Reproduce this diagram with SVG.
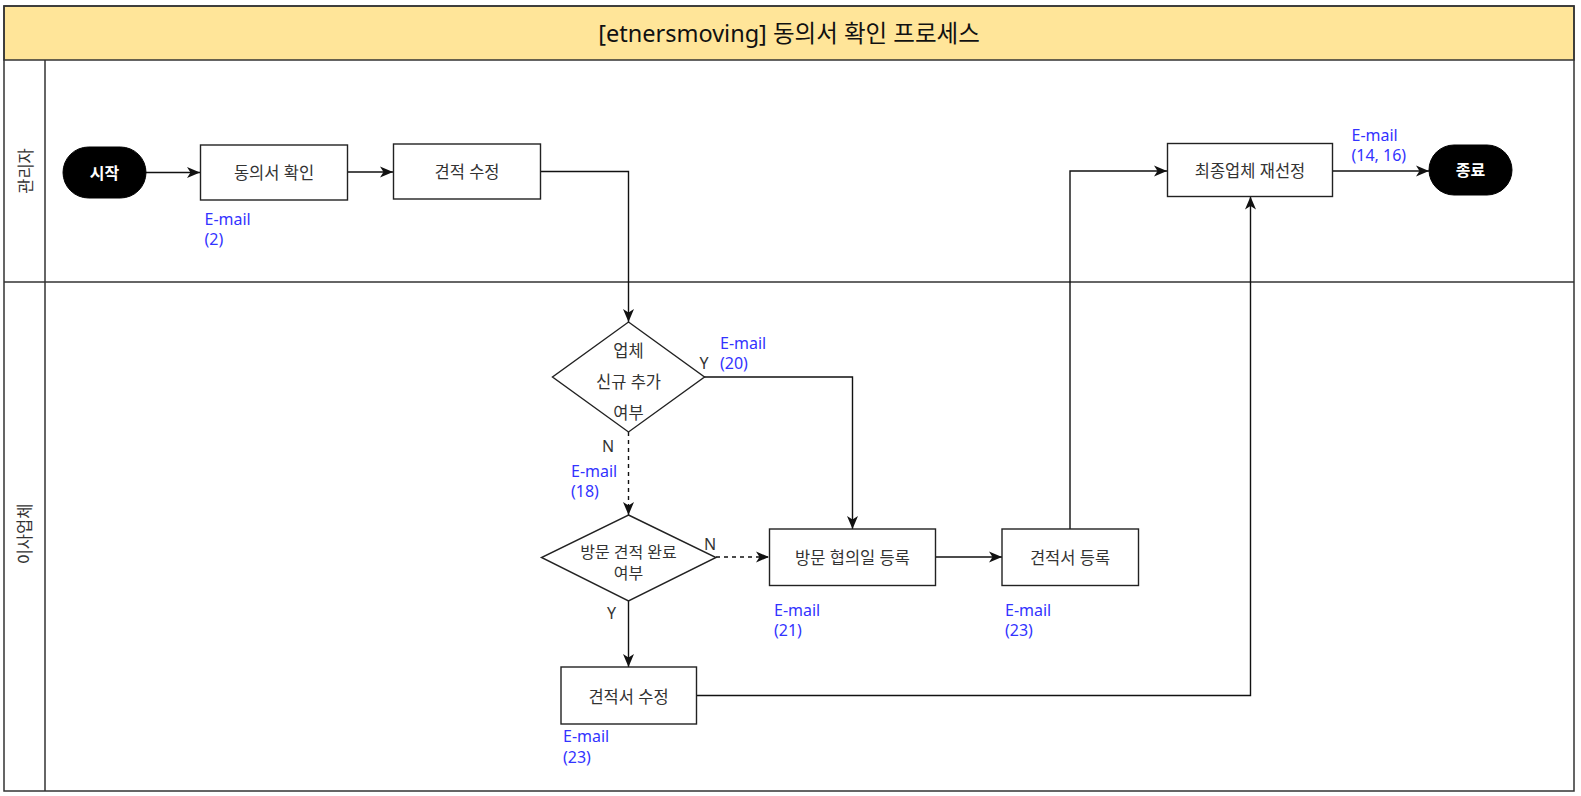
<svg xmlns="http://www.w3.org/2000/svg" width="1581" height="796" viewBox="0 0 1581 796">
<style>
.pool{fill:none;stroke:#333;stroke-width:1.5}
.lane{stroke:#333;stroke-width:1.5;fill:none}
.box{fill:#fff;stroke:#222;stroke-width:1.4}
.term{fill:#000;stroke:#000}
.lbl{font-family:"Noto Sans","Noto Sans CJK KR",sans-serif;font-size:16.5px;fill:#333;text-anchor:middle;dominant-baseline:central}
.tlbl{font-family:"Noto Sans","Noto Sans CJK KR",sans-serif;font-size:16px;fill:#fff;font-weight:bold;text-anchor:middle;dominant-baseline:central}
.mail{font-family:"Noto Sans","Noto Sans CJK KR",sans-serif;font-size:16px;fill:#3333ff;dominant-baseline:central}
.yn{font-family:"Noto Sans","Noto Sans CJK KR",sans-serif;font-size:16px;fill:#333;text-anchor:middle;dominant-baseline:central}
.title{font-family:"Noto Sans","Noto Sans CJK KR",sans-serif;font-size:23.5px;fill:#111;text-anchor:middle;dominant-baseline:central}
.edge{fill:none;stroke:#111;stroke-width:1.4}
.dash{stroke-dasharray:4,4}
</style>
<defs>
<marker id="arr" markerUnits="userSpaceOnUse" markerWidth="14" markerHeight="12" refX="13" refY="6" orient="auto">
<path d="M0,0.5 L13,6 L0,11.5 L3.5,6 z" fill="#111"/>
</marker>
</defs>
<rect x="0" y="0" width="1581" height="796" fill="#fff"/>
<g id="pool">
<rect x="4" y="6" width="1570" height="54" fill="#ffe599" stroke="#333" stroke-width="1.5"/>
<text class="title" x="789" y="33">[etnersmoving] 동의서 확인 프로세스</text>
<rect class="pool" x="4" y="6" width="1570" height="785"/>
<line class="lane" x1="45" y1="60" x2="45" y2="791"/>
<line class="lane" x1="4" y1="282" x2="1574" y2="282"/>
</g>
<g id="lane-admin">
<text class="lbl" transform="translate(25,171) rotate(-90)" x="0" y="0">관리자</text>
</g>
<g id="lane-mover">
<text class="lbl" transform="translate(24,534) rotate(-90)" x="0" y="0">이사업체</text>
</g>
<g id="connectors">
<path class="edge" d="M146,172.5 L200,172.5" marker-end="url(#arr)"/>
<path class="edge" d="M347,172 L393,172" marker-end="url(#arr)"/>
<path class="edge" d="M540,171.5 L628.5,171.5 L628.5,322" marker-end="url(#arr)"/>
<path class="edge" d="M704,377 L852.5,377 L852.5,529" marker-end="url(#arr)"/>
<path class="edge dash" d="M628.5,432 L628.5,515" marker-end="url(#arr)"/>
<path class="edge dash" d="M716,557 L769,557" marker-end="url(#arr)"/>
<path class="edge" d="M628.5,601 L628.5,667" marker-end="url(#arr)"/>
<path class="edge" d="M936,557 L1002,557" marker-end="url(#arr)"/>
<path class="edge" d="M1070,529 L1070,171 L1167,171" marker-end="url(#arr)"/>
<path class="edge" d="M696,695.5 L1250.5,695.5 L1250.5,196.5" marker-end="url(#arr)"/>
<path class="edge" d="M1332,171 L1429,171" marker-end="url(#arr)"/>
<text class="yn" x="704" y="363">Y</text>
<text class="yn" x="608" y="446">N</text>
<text class="yn" x="710" y="544">N</text>
<text class="yn" x="611.5" y="612.5">Y</text>
</g>
<g id="start">
<rect class="term" x="63" y="147" width="83" height="51" rx="25.5"/>
<text class="tlbl" x="104.5" y="172.5">시작</text>
</g>
<g id="consent-check">
<rect class="box" x="200.5" y="145" width="147" height="55"/>
<text class="lbl" x="274" y="172.5">동의서 확인</text>
<text class="mail" x="204.5" y="219">E-mail</text>
<text class="mail" x="204.5" y="239">(2)</text>
</g>
<g id="quote-edit">
<rect class="box" x="393.5" y="144" width="147" height="55"/>
<text class="lbl" x="467" y="171.5">견적 수정</text>
</g>
<g id="final-reselect">
<rect class="box" x="1167.5" y="143.5" width="165" height="53"/>
<text class="lbl" x="1250" y="170">최종업체 재선정</text>
</g>
<g id="end">
<rect class="term" x="1429" y="145" width="83" height="50" rx="25"/>
<text class="tlbl" x="1470.5" y="170">종료</text>
<text class="mail" x="1351.5" y="134.5">E-mail</text>
<text class="mail" x="1351.5" y="154.5">(14, 16)</text>
</g>
<g id="decision-new-vendor">
<polygon class="box" points="628.5,322 704.5,377 628.5,432 552.5,377"/>
<text class="lbl" x="628.5" y="350">업체</text>
<text class="lbl" x="628.5" y="381">신규 추가</text>
<text class="lbl" x="628.5" y="412">여부</text>
<text class="mail" x="720" y="343">E-mail</text>
<text class="mail" x="720" y="362.5">(20)</text>
<text class="mail" x="571" y="471">E-mail</text>
<text class="mail" x="571" y="490.5">(18)</text>
</g>
<g id="decision-visit">
<polygon class="box" points="628.5,515 716,557.5 628.5,601 541.5,557.5"/>
<text class="lbl" x="628.5" y="551.5" style="font-size:16px">방문 견적 완료</text>
<text class="lbl" x="628.5" y="573" style="font-size:16px">여부</text>
</g>
<g id="visit-date">
<rect class="box" x="769.5" y="529" width="166" height="56.5"/>
<text class="lbl" x="852.5" y="557">방문 협의일 등록</text>
<text class="mail" x="774" y="610">E-mail</text>
<text class="mail" x="774" y="630">(21)</text>
</g>
<g id="quote-register">
<rect class="box" x="1002" y="529" width="136.5" height="56.5"/>
<text class="lbl" x="1070" y="557">견적서 등록</text>
<text class="mail" x="1005" y="609.5">E-mail</text>
<text class="mail" x="1005" y="630">(23)</text>
</g>
<g id="quote-doc-edit">
<rect class="box" x="561" y="667" width="135.5" height="57"/>
<text class="lbl" x="628.5" y="696">견적서 수정</text>
<text class="mail" x="563" y="736">E-mail</text>
<text class="mail" x="563" y="756.5">(23)</text>
</g>
</svg>
